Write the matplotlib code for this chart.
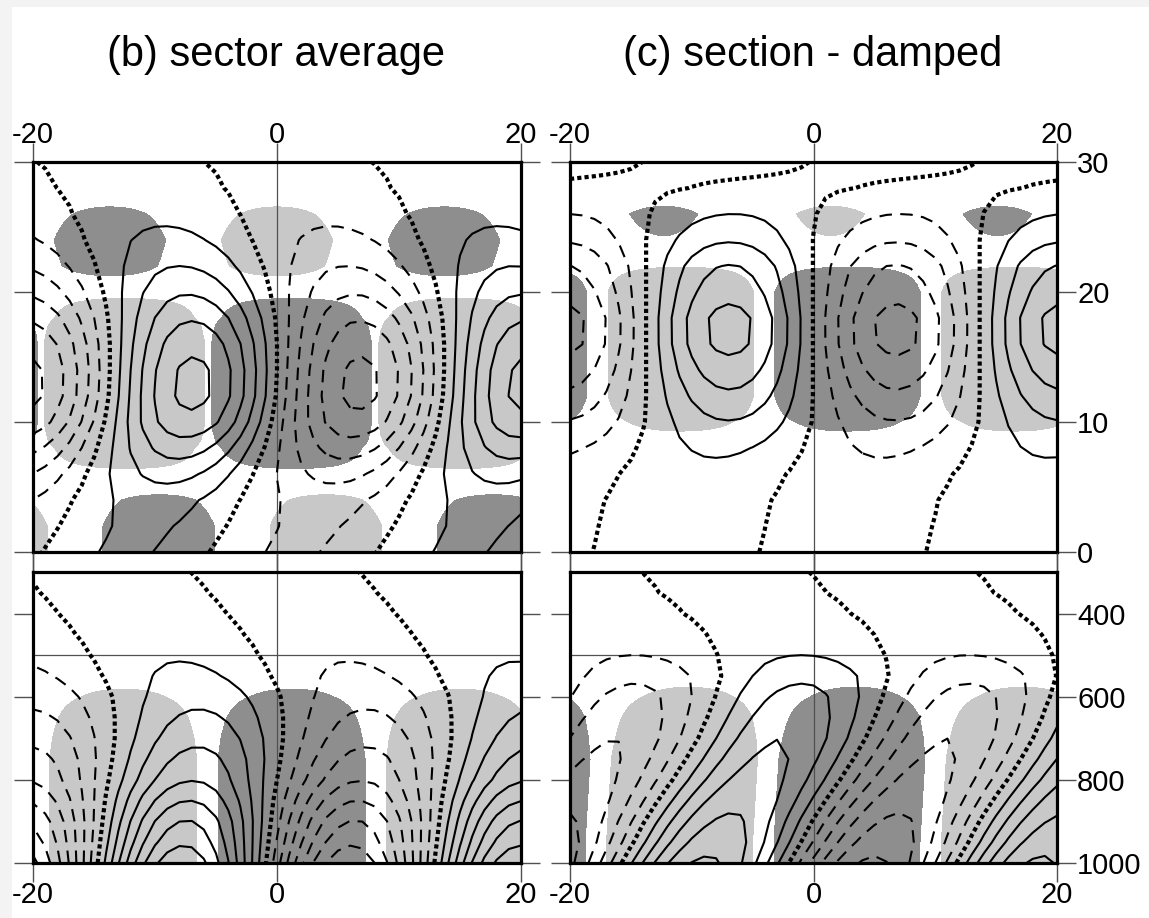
import numpy as np
import matplotlib
matplotlib.use("Agg")
import matplotlib.pyplot as plt
from matplotlib.patches import Rectangle

# ---------------------------------------------------------------------------
# Longitude-height (0-30 km) and longitude-pressure (300-1000 hPa) wave
# sections.  Each field is a zonal wave described by its amplitude and the
# longitude of its positive maximum at every vertical level.
# ---------------------------------------------------------------------------
titles = ["(b) sector average", "(c) section - damped"]
lon_ticks = [-20, 0, 20]
z_ticks = [0, 10, 20, 30]
p_ticks = [400, 600, 800, 1000]

z_levels = [0, 2, 4, 6, 8, 10, 12, 14, 16, 18, 20, 22, 24, 26, 28, 30]
p_levels = [300, 350, 400, 450, 500, 550, 600, 650, 700, 750, 800, 850, 900, 950, 1000]

# (b) sector average, height section
b_z_wavelength = 27.4
b_z_amp = [1.15, 1.2, 1.45, 2.35, 3.5, 4.75, 5.3, 5.25, 4.75, 3.9, 2.9, 2.0, 1.3, 0.75, 0.4, 0.2]
b_z_phase = [-12.4, -11.0, -9.9, -8.8, -7.9, -7.3, -6.95, -6.85, -6.85, -7.0, -7.4, -8.0, -8.9, -9.9, -11.2, -12.8]
b_z_shade_amp = [2.0, 2.0, 1.3, -0.2, -4.0, -15, -15, -15, -15, -4.0, 0.0, 1.6, 2.0, 1.3, 0.2, 0.0]
b_z_shade_phase = [4.0, 4.0, 4.0, 3.0, 1.2, 1.2, 1.2, 1.2, 1.2, 1.2, 0.6, 0.0, 0.0, 0.0, 0.0, 0.0]

# (c) section - damped, height section
c_z_wavelength = 27.4
c_z_amp = [0.3, 0.4, 0.55, 0.7, 1.2, 1.95, 2.8, 3.6, 4.3, 4.35, 3.7, 3.05, 1.9, 1.0, 0.2, 0.3]
c_z_phase = [-11.3, -10.8, -10.3, -9.1, -7.7, -7.0, -6.9, -6.9, -6.9, -6.9, -6.9, -6.9, -6.9, -6.6, -3.4, 6.5]
c_z_shade_amp = [0.0, 0.0, 0.0, 0.0, 0.5, -1.8, -5.0, -5.0, -5.0, -5.0, -5.0, -0.8, 0.95, 1.25, 0.4, 0.0]
c_z_shade_phase = [2.8, 2.8, 2.8, 2.8, 2.8, 2.8, 2.8, 2.8, 2.8, 2.8, 2.8, 2.8, 1.4, 1.4, 1.4, 1.4]

# (b) sector average, pressure section
b_p_wavelength = 27.6
b_p_amp = [0.3, 0.4, 0.5, 0.65, 0.9, 1.25, 1.7, 2.2, 2.75, 3.35, 3.95, 5.0, 6.05, 6.85, 7.8]
b_p_phase = [-14.0, -12.5, -11.0, -9.6, -8.4, -7.4, -6.6, -6.4, -6.4, -6.6, -6.9, -7.2, -7.4, -7.6, -7.8]
b_p_shade_amp = [0, 0, 0, 0, 0, 0.3, 1.4, 2.8, 4.0, 5.0, 5.0, 5.0, 5.0, 5.0, 5.0]
b_p_shade_phase = [-12.6] * 15

# (c) section - damped, pressure section
c_p_wavelength = 27.5
c_p_amp = [0.2, 0.3, 0.45, 0.7, 1.0, 1.8, 2.35, 2.7, 3.0, 3.2, 3.45, 3.8, 4.2, 4.7, 5.2]
c_p_phase = [-7.25, -5.8, -3.8, -1.9, -1.0, -0.7, -1.2, -1.85, -2.6, -3.6, -4.7, -5.9, -7.0, -7.9, -8.9]
c_p_shade_amp = [0, 0, 0, 0, 0, 0.4, 1.5, 2.9, 4.0, 5.0, 5.0, 5.0, 5.0, 5.0, 5.0]
c_p_shade_phase = [-10.3, -10.3, -10.3, -10.3, -10.3, -10.3, -10.3, -10.4, -10.5, -10.6, -10.7, -10.8, -10.9, -11.0, -11.0]

contour_levels = [1, 2, 3, 4, 5, 6, 7, 8]
shade_threshold = 1.0

LIGHT = "#c8c8c8"
DARK = "#8e8e8e"
GUIDE = "#505050"

plt.rcParams["font.family"] = ["Liberation Sans", "DejaVu Sans"]


def wave(lon, amp, phase, wavelength):
    amp = np.asarray(amp, float)[:, None]
    phase = np.asarray(phase, float)[:, None]
    return amp * np.cos(2 * np.pi * (lon[None, :] - phase) / wavelength)


def draw_panel(ax, vert, amp, phase, shade_amp, shade_phase, wavelength):
    lon_c = np.linspace(-20, 20, 41)
    lon_s = np.linspace(-20, 20, 161)
    field = wave(lon_c, amp, phase, wavelength)
    shade = wave(lon_s, shade_amp, shade_phase, wavelength)

    big = 1e3
    ax.contourf(lon_s, vert, shade, levels=[shade_threshold, big], colors=[LIGHT], zorder=1)
    ax.contourf(lon_s, vert, shade, levels=[-big, -shade_threshold], colors=[DARK], zorder=1)

    pos = list(contour_levels)
    neg = [-lv for lv in contour_levels[::-1]]
    ax.contour(lon_c, vert, field, levels=pos, colors="black",
               linewidths=1.5, linestyles="solid", zorder=3)
    ax.contour(lon_c, vert, field, levels=neg, colors="black",
               linewidths=1.5, linestyles=[(0, (6, 4))], zorder=3)
    ax.contour(lon_c, vert, field, levels=[0], colors="black",
               linewidths=3.0, linestyles=[(0, (1, 0.75))], zorder=3)

    ax.axvline(0, color=GUIDE, lw=0.9, zorder=2)
    ax.set_xlim(-20, 20)
    ax.set_xticks(lon_ticks)
    for s in ax.spines.values():
        s.set_linewidth(2.3)
        s.set_zorder(5)
    ax.tick_params(direction="out", length=14, width=1.0, color=GUIDE,
                   top=True, bottom=True, left=True, right=True,
                   labelsize=21, pad=0.5)


fig = plt.figure(figsize=(11.49, 9.18), dpi=100)

W = 1149.0
H = 918.0

# pale frame along the top and left edges of the sheet
fig.patches.append(Rectangle((0, 1 - 7 / H), 1, 7 / H, transform=fig.transFigure,
                             facecolor="#f3f3f3", edgecolor="none", zorder=0))
fig.patches.append(Rectangle((0, 0), 12 / W, 1, transform=fig.transFigure,
                             facecolor="#f3f3f3", edgecolor="none", zorder=0))


def rect(x0, y0, x1, y1):
    return [x0 / W, 1 - y1 / H, (x1 - x0) / W, (y1 - y0) / H]


ax_bz = fig.add_axes(rect(33, 162, 521, 552))
ax_cz = fig.add_axes(rect(570, 162, 1057, 552))
ax_bp = fig.add_axes(rect(33, 572, 521, 863))
ax_cp = fig.add_axes(rect(570, 572, 1057, 863))

draw_panel(ax_bz, z_levels, b_z_amp, b_z_phase, b_z_shade_amp, b_z_shade_phase, b_z_wavelength)
draw_panel(ax_cz, z_levels, c_z_amp, c_z_phase, c_z_shade_amp, c_z_shade_phase, c_z_wavelength)
draw_panel(ax_bp, p_levels, b_p_amp, b_p_phase, b_p_shade_amp, b_p_shade_phase, b_p_wavelength)
draw_panel(ax_cp, p_levels, c_p_amp, c_p_phase, c_p_shade_amp, c_p_shade_phase, c_p_wavelength)

for ax in (ax_bz, ax_cz):
    ax.set_ylim(0, 30)
    ax.set_yticks(z_ticks)
    ax.tick_params(labeltop=True, labelbottom=False)
    ax.tick_params(axis="x", pad=-4.5)

for ax in (ax_bp, ax_cp):
    ax.set_ylim(1000, 300)
    ax.set_yticks(p_ticks)
    ax.axhline(500, color=GUIDE, lw=0.9, zorder=2)
    ax.tick_params(labeltop=False, labelbottom=True)
    ax.tick_params(axis="x", pad=-1)

for ax in (ax_bz, ax_bp):
    ax.tick_params(labelleft=False, labelright=False)
for ax in (ax_cz, ax_cp):
    ax.tick_params(labelleft=False, labelright=True)

for ax in (ax_bz, ax_cz, ax_bp, ax_cp):
    ax.set_xticklabels(["-20", "0", "20"])
ax_cz.set_yticklabels([str(v) for v in z_ticks])
ax_cp.set_yticklabels([str(v) for v in p_ticks])

fig.text(276 / W, 1 - 55 / H, titles[0], ha="center", va="center", fontsize=30)
fig.text(813 / W, 1 - 55 / H, titles[1], ha="center", va="center", fontsize=30)

fig.savefig("out.png", dpi=100, facecolor="white")
